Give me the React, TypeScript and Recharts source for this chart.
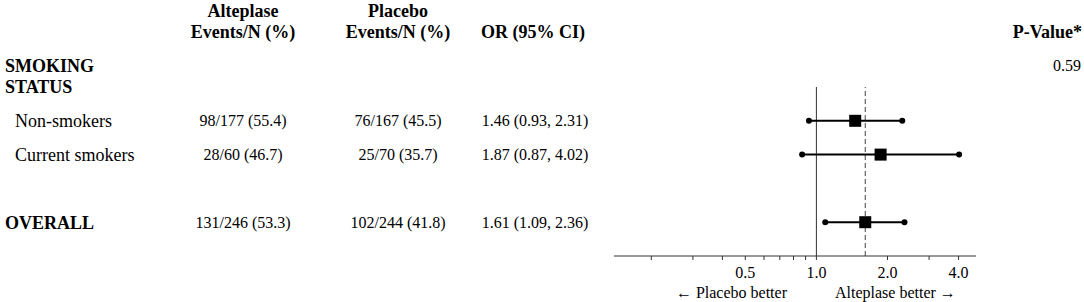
import React from 'react';
import { ScatterChart, Scatter, XAxis, YAxis, ReferenceLine } from 'recharts';

const FONT = "'Times New Roman', 'Liberation Serif', Times, serif";

// table rows
const rowIndex = [0, 1, 2, 4];
const rowLabels = [['SMOKING', 'STATUS'], ['Non-smokers'], ['Current smokers'], ['OVERALL']];
const rowBold = [true, false, false, true];
const rowIndent = [false, true, true, false];
const alteplaseText = ['', '98/177 (55.4)', '28/60 (46.7)', '131/246 (53.3)'];
const placeboText = ['', '76/167 (45.5)', '25/70 (35.7)', '102/244 (41.8)'];
const orText = ['', '1.46 (0.93, 2.31)', '1.87 (0.87, 4.02)', '1.61 (1.09, 2.36)'];
const pValueText = ['0.59', '', '', ''];

// numeric values
const orValues = [null, 1.46, 1.87, 1.61];
const ciLow = [null, 0.93, 0.87, 1.09];
const ciHigh = [null, 2.31, 4.02, 2.36];
const overallOR = 1.61;

// headers
const headerLine1 = ['Alteplase', 'Placebo', ''];
const headerLine2 = ['Events/N (%)', 'Events/N (%)', 'OR (95% CI)'];
const pValueHeader = 'P-Value*';

// axis
const xTicks = [0.2, 0.3, 0.4, 0.5, 0.6, 0.7, 0.8, 0.9, 1, 2, 3, 4];
const xTickLabels: Record<string, string> = { '0.5': '0.5', '1': '1.0', '2': '2.0', '4': '4.0' };
const xDomain = [0.139, 4.74];
const leftArrowLabel = '\u2190 Placebo better';
const rightArrowLabel = 'Alteplase better \u2192';

const colX = [243, 398, 533];

const pointData = rowIndex
  .map((y, i) => ({ x: orValues[i], y }))
  .filter((d) => d.x != null);

const ciData = rowIndex
  .map((y, i) => (ciLow[i] != null ? [{ x: ciLow[i], y }, { x: ciHigh[i], y }] : null))
  .filter((d) => d != null) as { x: number; y: number }[][];

const RowTick = (props: any) => {
  const { y, payload } = props;
  const i = rowIndex.indexOf(payload.value);
  if (i < 0) return null;
  const lines = rowLabels[i];
  return (
    <g style={{ fontFamily: FONT }} fill="#000">
      {lines.map((l, k) => (
        <text
          key={k}
          x={rowIndent[i] ? 15 : 5}
          y={y - (lines.length - 1 - k) * 21}
          dy="0.35em"
          fontSize={18}
          fontWeight={rowBold[i] ? 'bold' : 'normal'}
          textAnchor="start"
          fill="#000"
          style={{ fontFamily: FONT }}
        >
          {l}
        </text>
      ))}
      {[alteplaseText[i], placeboText[i], orText[i]].map((t, k) =>
        t ? (
          <text key={'c' + k} x={k === 2 ? 535 : colX[k]} y={y} dy="0.35em" fontSize={16} textAnchor="middle" fill="#000" style={{ fontFamily: FONT }}>
            {t}
          </text>
        ) : null
      )}
      {pValueText[i] ? (
        <text x={1081} y={y - (lines.length - 1) * 22} dy="0.35em" fontSize={16} textAnchor="end" fill="#000" style={{ fontFamily: FONT }}>
          {pValueText[i]}
        </text>
      ) : null}
    </g>
  );
};

const XTick = (props: any) => {
  const { x, y, payload } = props;
  const label = xTickLabels[String(payload.value)];
  if (!label) return null;
  return (
    <text x={x} y={y} dy="0.71em" fontSize={16} textAnchor="middle" fill="#000" style={{ fontFamily: FONT }}>
      {label}
    </text>
  );
};

const ArrowLabels = (props: any) => {
  const vb = props.viewBox || {};
  const y = vb.y + 36;
  return (
    <g fontSize={16} fill="#000" style={{ fontFamily: FONT }}>
      <text x={vb.x + 173} y={y} dy="0.35em" textAnchor="end" fill="#000" style={{ fontFamily: FONT }}>
        {leftArrowLabel}
      </text>
      <text x={vb.x + 221} y={y} dy="0.35em" textAnchor="start" fill="#000" style={{ fontFamily: FONT }}>
        {rightArrowLabel}
      </text>
    </g>
  );
};

const Square = (props: any) => {
  const { cx, cy } = props;
  return <rect x={cx - 6} y={cy - 6} width={12} height={12} fill="#000" />;
};

const Dot = (props: any) => {
  const { cx, cy } = props;
  return <circle cx={cx} cy={cy} r={3} fill="#000" />;
};

export default function App() {
  return (
    <div style={{ position: 'absolute', left: 0, top: 0, width: 1084, height: 302, background: '#fff', fontFamily: FONT }}>
      <svg width={1084} height={80} style={{ position: 'absolute', left: 0, top: 0, fontFamily: FONT }}>
        {headerLine1.map((t, k) =>
          t ? (
            <text key={'h1' + k} x={colX[k]} y={11} dy="0.35em" fontSize={18} fontWeight="bold" textAnchor="middle" fill="#000" style={{ fontFamily: FONT }}>
              {t}
            </text>
          ) : null
        )}
        {headerLine2.map((t, k) => (
          <text key={'h2' + k} x={colX[k]} y={32} dy="0.35em" fontSize={18} fontWeight="bold" textAnchor="middle" fill="#000" style={{ fontFamily: FONT }}>
            {t}
          </text>
        ))}
        <text x={1082} y={32} dy="0.35em" fontSize={18} fontWeight="bold" textAnchor="end" fill="#000" style={{ fontFamily: FONT }}>
          {pValueHeader}
        </text>
      </svg>
      <ScatterChart
        width={1084}
        height={302}
        margin={{ top: 87, right: 108, bottom: 0, left: 0 }}
        style={{ position: 'absolute', left: 0, top: 0 }}
      >
        <XAxis
          type="number"
          dataKey="x"
          scale="log"
          domain={xDomain}
          allowDataOverflow
          ticks={xTicks}
          interval={0}
          tickSize={4}
          tickMargin={7}
          height={46}
          stroke="#333"
          tickLine={{ stroke: '#333' }}
          tick={<XTick />}
          label={<ArrowLabels />}
        />
        <YAxis
          yAxisId="left"
          type="number"
          dataKey="y"
          domain={[0, 5]}
          reversed
          ticks={rowIndex}
          interval={0}
          width={614}
          axisLine={false}
          tickLine={false}
          tick={<RowTick />}
        />
        <ReferenceLine yAxisId="left" x={1} stroke="#333" strokeWidth={1} />
        <ReferenceLine yAxisId="left" x={overallOR} stroke="#444" strokeWidth={1} strokeDasharray="5 3" />
        {ciData.map((d, k) => (
          <Scatter
            key={'ci' + k}
            yAxisId="left"
            data={d}
            line={{ stroke: '#000', strokeWidth: 2 }}
            shape={<Dot />}
            isAnimationActive={false}
          />
        ))}
        <Scatter yAxisId="left" data={pointData} shape={<Square />} isAnimationActive={false} />
      </ScatterChart>
    </div>
  );
}
